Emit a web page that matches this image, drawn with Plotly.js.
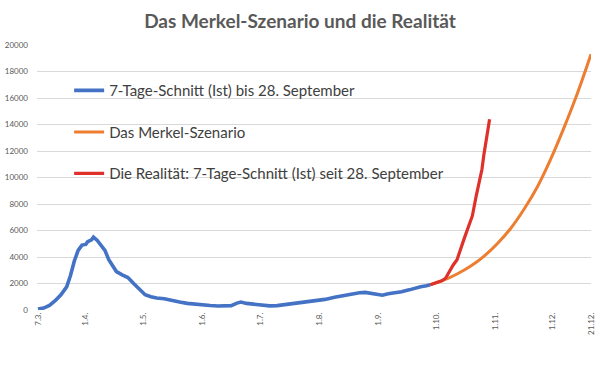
<!DOCTYPE html>
<html>
<head>
<meta charset="utf-8">
<script src="https://cdn.plot.ly/plotly-3.0.1.min.js"></script>
<style>html,body{margin:0;padding:0;background:#fff;}#chart{width:600px;height:367px;}</style>
</head>
<body>
<div id="chart"></div>
<script>
// Blue: 7-Tage-Schnitt (Ist) bis 28. September
const blueDates = ["2020-03-07","2020-03-10","2020-03-13","2020-03-16","2020-03-19","2020-03-22","2020-03-24","2020-03-26","2020-03-28","2020-03-30",
  "2020-04-01","2020-04-02","2020-04-04","2020-04-05","2020-04-07","2020-04-09","2020-04-11","2020-04-13","2020-04-15","2020-04-17","2020-04-20","2020-04-23","2020-04-26","2020-04-29",
  "2020-05-02","2020-05-05","2020-05-08","2020-05-12","2020-05-16","2020-05-20","2020-05-24","2020-05-28",
  "2020-06-01","2020-06-05","2020-06-09","2020-06-13","2020-06-16","2020-06-19","2020-06-21","2020-06-24","2020-06-28",
  "2020-07-02","2020-07-06","2020-07-10","2020-07-14","2020-07-18","2020-07-23","2020-07-27","2020-07-31",
  "2020-08-04","2020-08-09","2020-08-14","2020-08-18","2020-08-22","2020-08-25","2020-08-28","2020-08-31",
  "2020-09-03","2020-09-06","2020-09-09","2020-09-13","2020-09-17","2020-09-20","2020-09-23","2020-09-26","2020-09-28"];
const blueValues = [80,150,350,700,1150,1750,2600,3700,4500,4900,
  4950,5150,5300,5500,5250,4900,4500,3800,3300,2900,2650,2450,2000,1600,
  1150,1000,900,850,700,600,500,430,
  380,340,300,290,330,520,600,500,420,
  370,310,330,400,460,560,620,700,
  800,960,1100,1220,1300,1330,1260,1180,
  1120,1220,1280,1380,1520,1650,1760,1830,1900];

// Orange: Das Merkel-Szenario
const orangeDates = ["2020-09-28","2020-10-05","2020-10-12","2020-10-19","2020-10-26","2020-11-02","2020-11-09","2020-11-16","2020-11-23","2020-11-30","2020-12-07","2020-12-14","2020-12-21"];
const orangeValues = [1900,2250,2720,3300,4050,5000,6150,7600,9300,11400,13800,16400,19300];

// Red: Die Realität
const redDates = ["2020-09-28","2020-10-01","2020-10-04","2020-10-06","2020-10-08","2020-10-10","2020-10-12","2020-10-14","2020-10-16","2020-10-18","2020-10-20","2020-10-22","2020-10-24","2020-10-25","2020-10-26","2020-10-27","2020-10-28","2020-10-29"];
const redValues = [1900,2050,2200,2400,2950,3400,3800,4700,5500,6300,7100,8600,9800,10600,11700,12800,13500,14400];

const tickDates = ["2020-03-07","2020-04-01","2020-05-01","2020-06-01","2020-07-01","2020-08-01","2020-09-01","2020-10-01","2020-11-01","2020-12-01","2020-12-21"];
const tickLabels = ["7.3.","1.4.","1.5.","1.6.","1.7.","1.8.","1.9.","1.10.","1.11.","1.12.","21.12."];

const seriesNames = ["7-Tage-Schnitt (Ist) bis 28. September","Das Merkel-Szenario","Die Realität: 7-Tage-Schnitt (Ist) seit 28. September"];

const traces = [
  {x: orangeDates, y: orangeValues, name: seriesNames[1], mode: 'lines', legendgroup: 'b', legendrank: 2,
   line: {color: '#ED7D31', width: 3, shape: 'spline', smoothing: 1}},
  {x: redDates, y: redValues, name: seriesNames[2], mode: 'lines', legendgroup: 'c', legendrank: 3,
   line: {color: '#DF3029', width: 3.2}},
  {x: blueDates, y: blueValues, name: seriesNames[0], mode: 'lines', legendgroup: 'a', legendrank: 1,
   line: {color: '#4472C4', width: 3.6}}
];

const layout = {
  width: 600, height: 367,
  margin: {l: 37, r: 9, t: 45, b: 57},
  paper_bgcolor: '#fff', plot_bgcolor: '#fff',
  font: {family: 'Lato, "Open Sans", sans-serif', color: '#595959'},
  title: {text: '<b>Das Merkel-Szenario und die Realität</b>', x: 0.5, xanchor: 'center', y: 0.943, yanchor: 'middle',
          font: {size: 19, color: '#595959', family: 'Lato, "Open Sans", sans-serif'}},
  xaxis: {type: 'date', range: ['2020-03-06 12:00', '2020-12-21'], tickvals: tickDates, ticktext: tickLabels,
          tickangle: -90, tickfont: {size: 8, color: '#595959'}, showgrid: false, zeroline: false,
          showline: false, ticks: ''},
  yaxis: {range: [0, 20000], dtick: 2000, tickformat: 'd', showgrid: true, gridcolor: '#D9D9D9', gridwidth: 1,
          zeroline: false, showline: false, tickfont: {size: 8, color: '#595959'}, ticklabelstandoff: 8},
  legend: {x: 0.058, y: 0.89, xanchor: 'left', yanchor: 'top', bgcolor: 'rgba(0,0,0,0)', tracegroupgap: 19,
           font: {size: 15, color: '#404040'}, itemwidth: 30, traceorder: 'grouped'},
  showlegend: true
};

Plotly.newPlot('chart', traces, layout, {staticPlot: true, displayModeBar: false});
</script>
</body>
</html>
